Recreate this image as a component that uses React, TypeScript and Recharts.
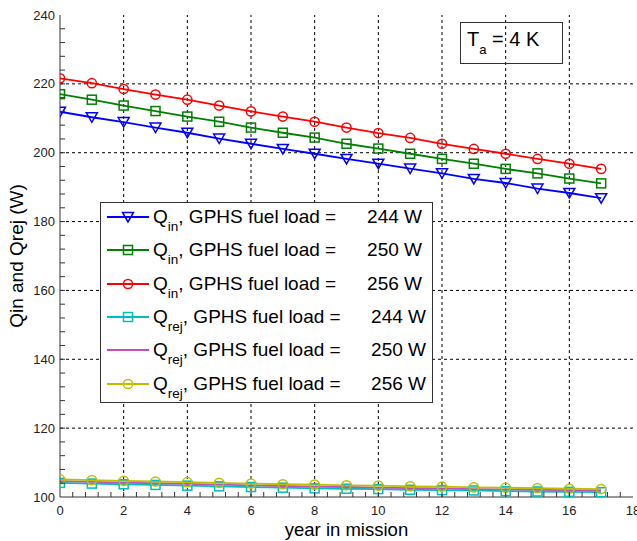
import React from "react";
import { LineChart, Line, XAxis, YAxis, ReferenceLine, Legend } from "recharts";

const years = [0, 1, 2, 3, 4, 5, 6, 7, 8, 9, 10, 11, 12, 13, 14, 15, 16, 17];

// Q_in (W) for each GPHS fuel load
const qin244 = [211.9, 210.3, 208.9, 207.3, 205.8, 204.1, 202.6, 201.1, 199.7, 198.2, 196.8, 195.4, 194.0, 192.4, 191.2, 189.6, 188.3, 186.8];
const qin250 = [217.0, 215.4, 213.7, 212.1, 210.5, 209.0, 207.3, 205.8, 204.4, 202.6, 201.2, 199.7, 198.2, 196.8, 195.3, 194.0, 192.5, 191.1];
const qin256 = [221.6, 220.2, 218.5, 216.9, 215.4, 213.7, 212.0, 210.5, 209.0, 207.3, 205.7, 204.3, 202.6, 201.1, 199.7, 198.2, 196.8, 195.3];

// Q_rej (W)
const qrej244 = [104.1, 103.9, 103.7, 103.5, 103.3, 103.1, 102.9, 102.7, 102.5, 102.4, 102.3, 102.1, 102.0, 101.9, 101.7, 101.6, 101.5, 101.4];
const qrej250 = [104.6, 104.4, 104.2, 104.0, 103.8, 103.6, 103.4, 103.2, 103.0, 102.9, 102.7, 102.6, 102.5, 102.3, 102.2, 102.1, 102.0, 101.9];
const qrej256 = [105.1, 104.9, 104.7, 104.5, 104.3, 104.1, 103.9, 103.7, 103.6, 103.4, 103.3, 103.1, 103.0, 102.8, 102.7, 102.6, 102.4, 102.3];

const xMajorTicks = [0, 2, 4, 6, 8, 10, 12, 14, 16, 18];
const yMajorTicks = [100, 120, 140, 160, 180, 200, 220, 240];
const X_MINOR_STEP = 0.4;
const Y_MINOR_STEP = 4;

const xTicks = Array.from({ length: 46 }, (_, k) => Math.round(k * X_MINOR_STEP * 10) / 10);
const yTicks = Array.from({ length: 36 }, (_, k) => 100 + k * Y_MINOR_STEP);

const data = years.map((year, i) => ({
  year,
  qin244: qin244[i],
  qin250: qin250[i],
  qin256: qin256[i],
  qrej244: qrej244[i],
  qrej250: qrej250[i],
  qrej256: qrej256[i],
}));

type Marker = "tri" | "square" | "circle" | "none";

const series: { key: string; sub: string; load: string; color: string; marker: Marker }[] = [
  { key: "qin244", sub: "in", load: "244 W", color: "#0000ff", marker: "tri" },
  { key: "qin250", sub: "in", load: "250 W", color: "#008000", marker: "square" },
  { key: "qin256", sub: "in", load: "256 W", color: "#ff0000", marker: "circle" },
  { key: "qrej244", sub: "rej", load: "244 W", color: "#00bfbf", marker: "square" },
  { key: "qrej250", sub: "rej", load: "250 W", color: "#c050c0", marker: "none" },
  { key: "qrej256", sub: "rej", load: "256 W", color: "#bfbf00", marker: "circle" },
];

const FONT = "'Liberation Sans', Arial, sans-serif";
const AXIS = "#333";

function drawMarker(marker: Marker, color: string, cx: number, cy: number, key?: string) {
  if (marker === "tri")
    return <polygon key={key} points={`${cx - 5.5},${cy - 4.5} ${cx + 5.5},${cy - 4.5} ${cx},${cy + 5}`} fill="none" stroke={color} strokeWidth={1.5} />;
  if (marker === "square")
    return <rect key={key} x={cx - 4.5} y={cy - 4.5} width={9} height={9} fill="none" stroke={color} strokeWidth={1.5} />;
  if (marker === "circle")
    return <circle key={key} cx={cx} cy={cy} r={4.6} fill="none" stroke={color} strokeWidth={1.5} />;
  return <g key={key} />;
}

// ticks point inward, every side; labels only on bottom / left majors
function XTick(props: any) {
  const { x, y, payload, side } = props;
  const v = payload.value;
  const major = xMajorTicks.includes(v);
  const dir = side === "bottom" ? -1 : 1;
  return (
    <g>
      {v > 0 && v < 18 && <line x1={x} x2={x} y1={y} y2={y + dir * 5} stroke={AXIS} />}
      {major && side === "bottom" && (
        <text x={x} y={y + 18} textAnchor="middle" fontSize={13} fill="#222" fontFamily={FONT}>
          {v}
        </text>
      )}
    </g>
  );
}

function YTick(props: any) {
  const { x, y, payload, side } = props;
  const v = payload.value;
  const major = yMajorTicks.includes(v);
  const dir = side === "left" ? 1 : -1;
  return (
    <g>
      {v > 100 && v < 240 && <line x1={x} x2={x + dir * 5} y1={y} y2={y} stroke={AXIS} />}
      {major && side === "left" && (
        <text x={x - 5} y={y + 4.5} textAnchor="end" fontSize={13} fill="#222" fontFamily={FONT}>
          {v}
        </text>
      )}
    </g>
  );
}

function LegendBox() {
  return (
    <div
      style={{
        position: "relative",
        width: 333,
        height: 201,
        border: "1px solid #333",
        background: "#fff",
        boxSizing: "border-box",
        fontFamily: FONT,
        color: "#000",
      }}
    >
      {series.map((s, i) => {
        const center = 14 + i * 33.3;
        return (
          <div key={s.key} style={{ position: "absolute", left: 0, right: 0, top: center - 12, height: 23 }}>
            <svg width={42} height={23} style={{ position: "absolute", left: 6, top: 0 }}>
              <line x1={0} x2={42} y1={12} y2={12} stroke={s.color} strokeWidth={1.8} />
              {drawMarker(s.marker, s.color, 21, 12)}
            </svg>
            <div style={{ position: "absolute", left: 52, top: 0, fontSize: 19, lineHeight: "23px", whiteSpace: "nowrap" }}>
              Q<span style={{ fontSize: 13.5, position: "relative", top: 8 }}>{s.sub}</span>, GPHS fuel load =
            </div>
            <div
              style={{
                position: "absolute",
                right: s.sub === "in" ? 10 : 6,
                top: 0,
                fontSize: 19,
                lineHeight: "23px",
                whiteSpace: "nowrap",
              }}
            >
              {s.load}
            </div>
          </div>
        );
      })}
    </div>
  );
}

export default function App() {
  return (
    <div style={{ position: "absolute", left: 0, top: 0, width: 637, height: 541, background: "#fff", fontFamily: FONT }}>
      <LineChart width={637} height={541} data={data} margin={{ top: 15, right: 4, bottom: 0, left: 0 }}>
        {xMajorTicks.slice(1, -1).map((v) => (
          <ReferenceLine key={`gx${v}`} x={v} stroke="#000" strokeDasharray="3 3" strokeWidth={1} />
        ))}
        {yMajorTicks.slice(1, -1).map((v) => (
          <ReferenceLine key={`gy${v}`} y={v} stroke="#000" strokeDasharray="3 3" strokeWidth={1} />
        ))}
        <XAxis
          dataKey="year"
          type="number"
          domain={[0, 18]}
          allowDataOverflow
          ticks={xTicks}
          interval={0}
          height={44}
          tickSize={0}
          tickMargin={0}
          tickLine={false}
          stroke={AXIS}
          tick={(p: any) => <XTick {...p} side="bottom" />}
          label={{ value: "year in mission", position: "insideBottom", offset: 5, fontSize: 18.5, fill: "#000", fontFamily: FONT }}
        />
        <XAxis
          xAxisId="top"
          orientation="top"
          type="number"
          domain={[0, 18]}
          allowDataOverflow
          ticks={xTicks}
          interval={0}
          height={0}
          tickSize={0}
          tickMargin={0}
          tickLine={false}
          stroke={AXIS}
          tick={(p: any) => <XTick {...p} side="top" />}
        />
        <YAxis
          type="number"
          domain={[100, 240]}
          allowDataOverflow
          ticks={yTicks}
          interval={0}
          width={60}
          tickSize={0}
          tickMargin={0}
          tickLine={false}
          stroke={AXIS}
          tick={(p: any) => <YTick {...p} side="left" />}
          label={{
            value: "Qin and Qrej (W)",
            angle: -90,
            position: "insideLeft",
            offset: 16,
            fontSize: 19,
            fill: "#000",
            fontFamily: FONT,
            style: { textAnchor: "middle" },
          }}
        />
        <YAxis
          yAxisId="right"
          orientation="right"
          type="number"
          domain={[100, 240]}
          allowDataOverflow
          ticks={yTicks}
          interval={0}
          width={0}
          tickSize={0}
          tickMargin={0}
          tickLine={false}
          stroke={AXIS}
          tick={(p: any) => <YTick {...p} side="right" />}
        />
        {series.map((s) => (
          <Line
            key={s.key}
            dataKey={s.key}
            type="linear"
            stroke={s.color}
            strokeWidth={1.8}
            isAnimationActive={false}
            dot={s.marker === "none" ? false : (p: any) => drawMarker(s.marker, s.color, p.cx, p.cy, `${s.key}-${p.index}`)}
          />
        ))}
        <Legend
          layout="horizontal"
          verticalAlign="middle"
          align="center"
          wrapperStyle={{ position: "absolute", left: 100, top: 202, width: 333, height: 201 }}
          content={() => <LegendBox />}
        />
      </LineChart>
      <div
        style={{
          position: "absolute",
          left: 460,
          top: 22,
          width: 103,
          height: 42,
          border: "1px solid #333",
          boxSizing: "border-box",
          fontSize: 20,
          lineHeight: "24px",
          color: "#000",
        }}
      >
        <div style={{ position: "absolute", left: 6, top: 4, whiteSpace: "nowrap" }}>
          T<span style={{ fontSize: 13, position: "relative", top: 8 }}>a</span> = 4 K
        </div>
      </div>
    </div>
  );
}
